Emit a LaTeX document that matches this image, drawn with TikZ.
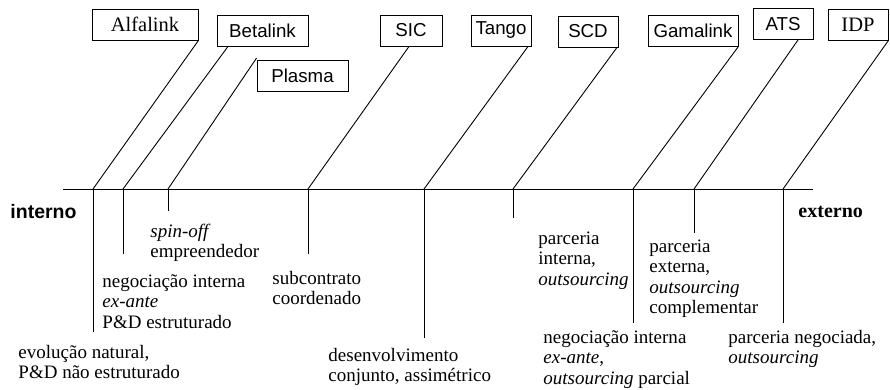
\documentclass[tikz,border=0pt]{standalone}
\usepackage{fontspec}
\setmainfont{Liberation Serif}
\setsansfont{Liberation Sans}

\begin{document}
\begin{tikzpicture}[x=1pt, y=-1pt, line width=0.9pt,
    firm/.style = {draw, inner sep=0pt, minimum height=31pt, font=\sffamily\fontsize{18.7}{19}\selectfont},
    firmrm/.style = {firm, font=\rmfamily\fontsize{20.5}{21}\selectfont},
    desc/.style = {align=left, anchor=base west, inner sep=0pt, font=\fontsize{19}{20.5}\selectfont}]
    \useasboundingbox (0,0) rectangle (890,390);
    % caixas
    \node[firmrm, minimum width=106pt] (alfa) at (145,24.5) {Alfalink};
    \node[firm, minimum width=91pt] (beta) at (262.5,30.5) {Betalink};
    \node[firm, minimum width=91pt] (plasma) at (302.5,76) {Plasma};
    \node[firm, minimum width=62pt] (sic) at (411,30.5) {SIC};
    \node[firm, minimum width=60pt] (tango) at (501,30.5) {Tango};
    \node[firm, minimum width=60pt] (scd) at (588,31.5) {SCD};
    \node[firm, minimum width=90pt] (gama) at (693,30.5) {Gamalink};
    \node[firm, minimum width=60pt] (ats) at (783,24) {ATS};
    \node[firmrm, minimum width=60pt] (idp) at (858,24.5) {IDP};
    % eixo
    \coordinate (a0) at (63,189);
    \coordinate (a1) at (813,189);
    \draw (a0) -- (a1);
    \coordinate (t1) at (93,189);
    \coordinate (t2) at (123,189);
    \coordinate (t3) at (168,189);
    \coordinate (t4) at (308,189);
    \coordinate (t5) at (424,189);
    \coordinate (t6) at (513,189);
    \coordinate (t7) at (633,189);
    \coordinate (t8) at (694,189);
    \coordinate (t9) at (783,189);
    % ligacoes
    \draw (alfa.south east) -- (t1);
    \draw (228,0 |- beta.south) -- (t2);
    \draw ([yshift=2pt]plasma.north west) -- (t3);
    \draw (409,0 |- sic.south) -- (t4);
    \draw (528,0 |- tango.south) -- (t5);
    \draw (617,0 |- scd.south) -- (t6);
    \draw (gama.south east) -- (t7);
    \draw (798,0 |- ats.south) -- (t8);
    \draw (idp.south east) -- (t9);
    % tracos
    \draw (t1) -- (93,332);
    \draw (t2) -- (123,254);
    \draw (t3) -- (168,211);
    \draw (t4) -- (308,254);
    \draw (t5) -- (424,338);
    \draw (t6) -- (513,218);
    \draw (t7) -- (633,323);
    \draw (t8) -- (694,233);
    \draw (t9) -- (783,323);
    % textos (base = ultima linha)
    \node[anchor=west, inner sep=0pt, font=\sffamily\bfseries\fontsize{19.5}{20}\selectfont] (int) at (10,212) {interno};
    \node[anchor=west, inner sep=0pt, font=\rmfamily\bfseries\fontsize{20}{20}\selectfont] (ext) at (798,212) {externo};
    \node[desc] (d1) at (18,378.5) {evolução natural,\\P\&D não estruturado};
    \node[desc] (d2) at (102,328) {negociação interna\\\textit{ex-ante}\\P\&D estruturado};
    \node[desc] (d3) at (150,257.5) {\textit{spin-off}\\empreendedor};
    \node[desc] (d4) at (272,304.5) {subcontrato\\coordenado};
    \node[desc] (d5) at (328,381.5) {desenvolvimento\\conjunto, assimétrico};
    \node[desc] (d6) at (538,285) {parceria\\interna,\\\textit{outsourcing}};
    \node[desc] (d7) at (543,384) {negociação interna\\\textit{ex-ante},\\\textit{outsourcing} parcial};
    \node[desc] (d8) at (649,313.5) {parceria\\externa,\\\textit{outsourcing}\\complementar};
    \node[desc] (d9) at (728,363.5) {parceria negociada,\\\textit{outsourcing}};
\end{tikzpicture}
\end{document}
